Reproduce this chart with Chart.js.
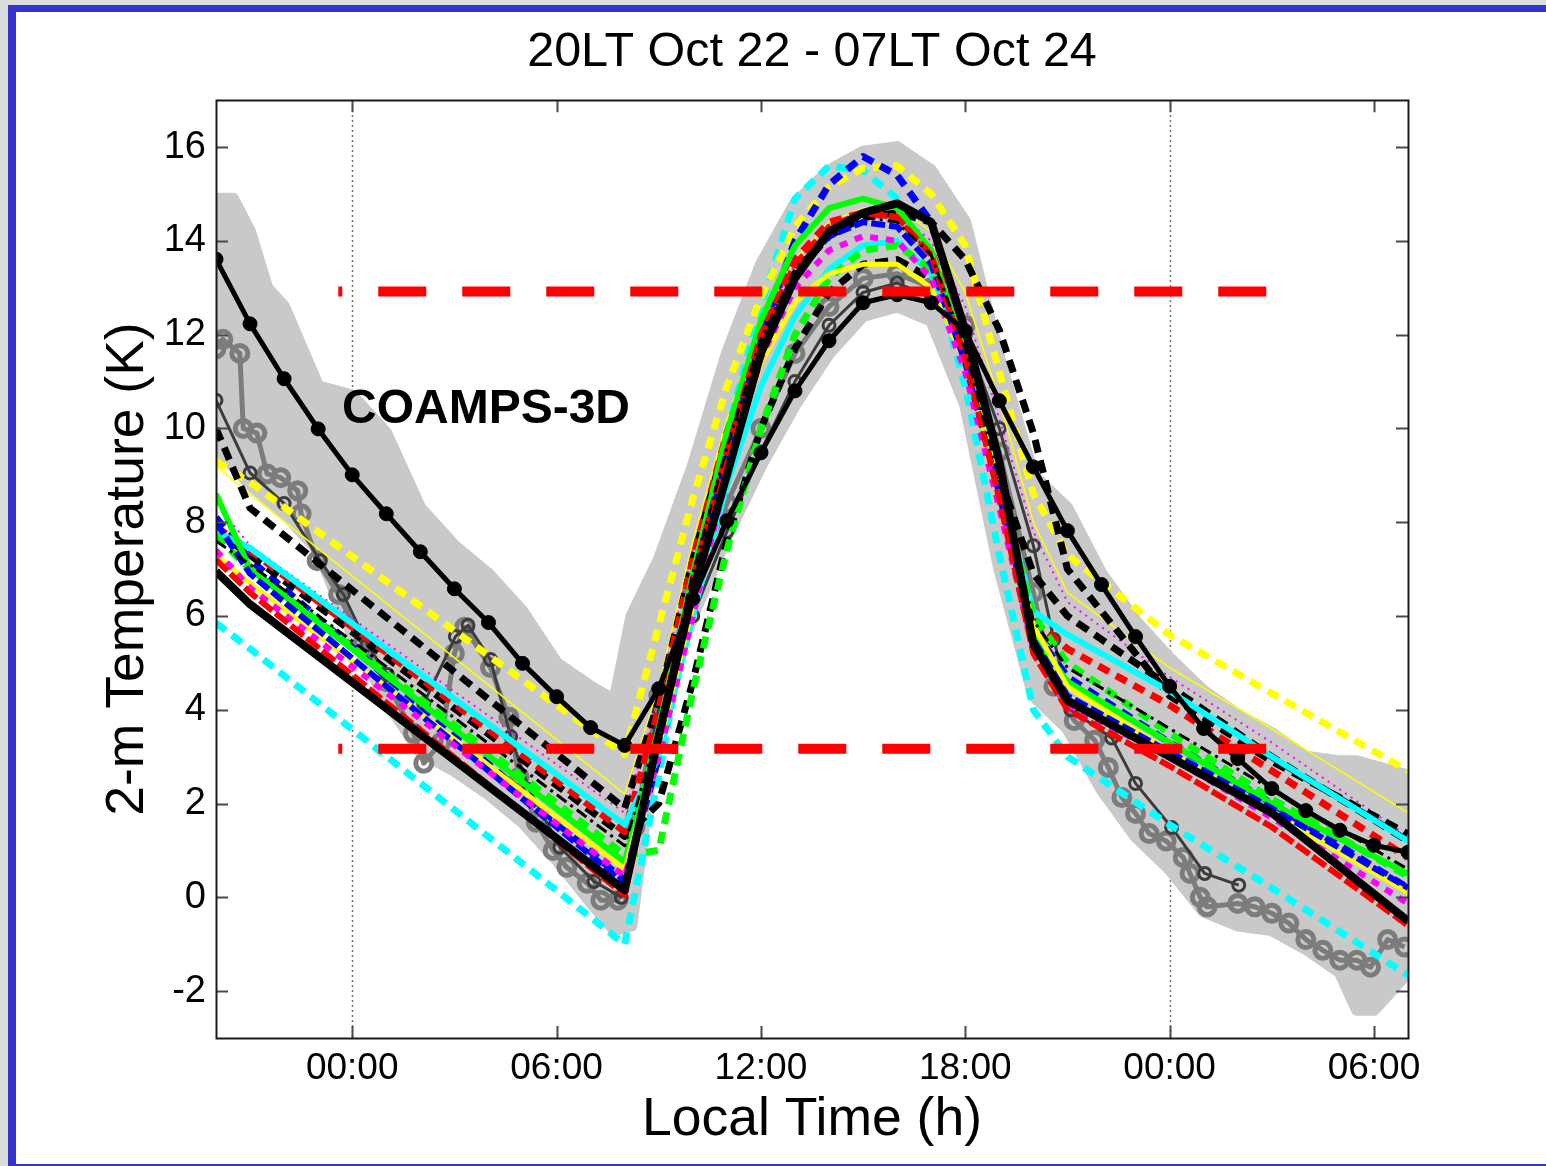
<!DOCTYPE html>
<html><head><meta charset="utf-8">
<script src="https://cdn.jsdelivr.net/npm/chart.js@4.4.1/dist/chart.umd.min.js"></script>
<style>
html,body{margin:0;padding:0;background:#dcdcdc;width:1546px;height:1166px;overflow:hidden;}
#frame{position:absolute;left:8px;top:5px;width:1600px;height:1161px;background:#fff;border-left:8px solid #3434cc;border-top:7px solid #3434cc;border-bottom:2px solid #3434cc;box-sizing:border-box;}
#c{position:absolute;left:0;top:0;}
</style></head><body>
<div id="frame"></div>
<canvas id="c" width="1546" height="1166"></canvas>
<script>
// ---------- axes ----------
const X_TICKS = [0, 6, 12, 18, 24, 30];
const X_TICK_LABELS = ['00:00', '06:00', '12:00', '18:00', '00:00', '06:00'];
const Y_TICKS = [-2, 0, 2, 4, 6, 8, 10, 12, 14, 16];
const DOTTED_X = [0, 24];

// ---------- observation envelope (hours after 00LT Oct 23) ----------
const ENV_H = [-4,-3.5,-3,-2.5,-2,-1,0,1,2,3,4,5,6,7,7.7,8.2,9,10,11,12,13,14,15,16,17,18,19,20,21,22,23,24,25,26,27,28,29,29.5,30,30.5,31];
const ENV_UPPER = [14.9,14.9,14.2,13.0,12.6,10.9,10.7,9.9,8.3,7.5,6.9,6.1,5.0,4.5,4.2,6.0,7.2,9.2,11.6,13.5,14.8,15.5,15.9,16.0,15.5,14.4,11.5,9.0,8.3,6.9,5.9,5.1,4.4,3.9,3.5,3.0,2.9,2.9,2.8,2.7,2.6];
const ENV_LOWER = [9.6,9.2,8.8,8.5,8.2,7.4,5.6,4.2,3.1,2.7,2.2,1.6,0.8,-0.1,-0.7,-0.6,4.0,6.0,7.7,9.2,10.5,11.6,12.4,12.6,12.3,10.5,7.0,4.3,3.6,2.3,1.3,0.6,-0.3,-0.6,-0.7,-1.1,-1.6,-2.4,-2.4,-2.0,-1.6];

// ---------- observation station traces ----------
const OBS_H = [-4,-3,-2,-1,0,1,2,3,4,5,6,7,8,9,10,11,12,13,14,15,16,17,18,19,20,21,22,23,24,25,26,27,28,29,30,31];
const OBS_BLACK = [13.61,12.23,11.06,9.99,9.01,8.18,7.37,6.58,5.86,4.99,4.28,3.62,3.24,4.45,6.37,8.03,9.48,10.80,11.87,12.68,12.85,12.68,12.08,10.59,9.18,7.82,6.67,5.56,4.50,3.60,2.96,2.32,1.85,1.43,1.11,0.96];

const DG1_H = [-4,-3,-2,-0.94,-0.26,0.44,1.03,2.1,3.03,3.4,4.06,4.65,5.2,6.1,7.1,7.9,9,10,11,12,13,14,15,16,17,18,19,20,20.6,21.1,22.3,23,24.06,25.03,26.03];
const DG1_T = [10.6,9.05,8.4,7.18,6.46,5.39,4.75,4.13,5.56,5.8,5.07,3.43,2.3,1.07,0.34,0.0,4.0,6.0,7.8,9.5,11.0,12.2,12.9,13.1,12.8,12.0,10.0,7.5,5.5,4.0,3.4,2.43,1.49,0.51,0.26];

const G2_H = [-4,-3.8,-3.3,-3.2,-2.8,-2.5,-2.1,-1.6,-1.5,-1.03,-0.4,0.3,1.0,1.8,2.1,2.6,3.0,3.3,4.06,4.6,4.9,5.4,5.9,6.3,6.9,7.3,7.8,8.3,9,10,11,12,13,14,15,16,17,18,19,20,20.6,21.2,21.8,22.2,22.6,23.0,23.4,23.9,24.4,24.6,24.9,25.1,26.0,26.5,27.0,27.5,28.0,28.5,29.0,29.5,29.9,30.4,30.9];
const G2_T = [11.7,11.9,11.6,10.0,9.9,9.03,8.95,8.67,8.18,7.18,6.46,5.4,4.6,3.5,2.86,3.3,5.2,5.76,4.9,3.84,2.56,1.6,1.0,0.64,0.3,-0.06,-0.06,1.5,4.3,6.6,8.4,10.0,11.6,12.6,13.2,13.3,13.0,12.2,9.5,6.5,4.5,3.77,3.35,2.77,2.13,1.79,1.36,1.2,0.85,0.51,0.0,-0.2,-0.13,-0.2,-0.34,-0.55,-0.9,-1.13,-1.34,-1.34,-1.49,-0.9,-1.06];

// ---------- COAMPS-3D model members ----------
const MODEL_H = [-4,-3,8,9,10,11,12,13,14,15,16,17,18,19,20,21,24,27,31];
const CYAN_DASH    = [5.85,5.3,-1.0,2.6,6.6,9.9,12.6,14.9,15.6,15.5,14.9,13.5,10.9,7.3,4.0,3.0,1.55,0.2,-1.66];
const YELLOW_DASH  = [9.3,8.85,3.05,5.8,8.5,10.9,12.8,14.3,15.15,15.55,15.6,15.0,13.9,11.2,8.6,7.3,5.6,4.35,2.7];
const BLUE_DASH    = [8.1,7.2,0.35,3.0,6.2,9.3,12.0,14.0,15.2,15.8,15.4,14.4,12.0,8.8,5.7,4.7,3.3,2.0,0.2];
const BLACK_THICK  = [6.95,6.25,0.15,3.45,6.5,9.0,11.6,13.2,14.2,14.6,14.8,14.4,12.1,9.3,5.4,4.2,3.0,1.8,-0.5];
const RED_DASH     = [7.9,7.4,1.4,4.0,7.2,9.9,12.0,13.6,14.4,14.6,14.5,13.8,11.8,9.0,5.9,5.3,4.1,2.7,0.85];
const CYAN_SOLID   = [7.8,7.45,1.55,3.0,6.0,8.8,10.9,12.4,13.4,13.9,14.0,13.3,11.5,8.8,6.1,5.6,4.4,3.0,1.2];
const BLACK_DASH1  = [10.0,8.3,1.9,4.2,7.2,9.8,11.9,13.3,14.1,14.5,14.6,14.4,13.6,12.1,9.9,7.0,4.3,2.9,1.35];
const BLACK_DASH2  = [7.8,7.3,1.3,2.0,4.6,7.6,10.0,11.7,12.9,13.5,13.6,13.2,11.8,9.0,6.9,6.0,4.5,3.0,1.2];
const GREEN_SOLID  = [8.6,7.0,0.75,3.6,6.9,9.9,12.3,13.9,14.7,14.9,14.7,13.8,11.6,8.6,5.6,4.6,3.3,2.0,0.5];
const GREEN_DASH   = [7.7,7.0,0.9,1.0,4.4,7.4,10.0,12.0,13.2,13.8,13.9,13.4,11.6,8.8,6.0,5.0,3.5,2.1,0.45];
const RED_SOLID    = [7.2,6.5,0.05,3.5,6.8,9.5,12.0,13.5,14.3,14.6,14.5,13.7,11.5,8.5,5.2,4.0,2.8,1.5,-0.6];
const MAGENTA_DASH = [7.4,6.6,0.45,3.0,6.0,9.0,11.5,13.0,13.8,14.1,14.0,13.2,11.2,8.3,5.3,4.1,3.0,1.7,-0.13];
const BLUE_SOLID   = [8.0,6.9,0.3,3.3,6.6,9.4,11.8,13.3,14.1,14.4,14.3,13.5,11.4,8.6,5.5,4.3,3.1,1.9,0.2];
const YELLOW_SOLID = [7.3,6.7,0.6,3.2,6.2,9.1,11.4,12.7,13.3,13.5,13.5,13.0,11.4,8.8,5.8,4.5,3.1,1.8,0.1];
const YELLOW_THIN  = [9.2,8.6,2.2,4.5,7.6,10.2,12.3,13.6,14.4,14.7,14.7,14.2,12.9,10.6,8.0,6.5,4.9,3.6,1.8];
const MAGENTA_THIN = [8.4,7.5,1.8,4.3,7.4,10.0,12.2,13.5,14.3,14.6,14.6,14.0,12.6,10.2,7.8,6.3,4.7,3.3,1.3];
const BLACK_DASHDOT= [7.6,7.1,1.1,3.6,6.9,9.6,11.9,13.4,14.2,14.5,14.4,13.7,11.7,8.9,5.9,4.9,3.6,2.3,0.6];

// ---------- reference lines ----------
const REF_X = [-0.41, 26.85];
const REF_Y = [12.92, 3.17];

const TITLE = '20LT Oct 22 - 07LT Oct 24';
const X_TITLE = 'Local Time (h)';
const Y_TITLE = '2-m Temperature (K)';
const LABEL = {text: 'COAMPS-3D', x: -0.3, y: 10.12};

const FONT = "'Liberation Sans', Arial, Helvetica, sans-serif";
const pts = (xs, ys) => xs.map((v, i) => ({x: v, y: ys[i]}));

function line(xs, ys, color, width, dash, extra) {
  return Object.assign({
    data: pts(xs, ys), borderColor: color, backgroundColor: color, borderWidth: width,
    borderDash: dash || [], pointRadius: 0, fill: false, tension: 0,
    borderCapStyle: 'butt', borderJoinStyle: 'round'
  }, extra || {});
}

const GRAY = '#c9c9c9';
const D = [12, 8];
const layers = [
  line(ENV_H, ENV_UPPER, GRAY, 12, [], {fill: '+1', backgroundColor: GRAY, borderCapStyle: 'round'}),
  line(ENV_H, ENV_LOWER, GRAY, 12, [], {borderCapStyle: 'round'}),
  line(G2_H, G2_T, '#7c7c7c', 5, [], {pointRadius: 8, pointBorderWidth: 5, pointBackgroundColor: 'rgba(0,0,0,0)', pointBorderColor: '#7c7c7c'}),
  line(DG1_H, DG1_T, '#3c3c3c', 3, [], {pointRadius: 6, pointBorderWidth: 3, pointBackgroundColor: 'rgba(0,0,0,0)', pointBorderColor: '#3c3c3c'}),
  line(MODEL_H, YELLOW_THIN, '#ffff00', 1.5),
  line(MODEL_H, MAGENTA_THIN, '#ff00ff', 2, [2, 5]),
  line(MODEL_H, CYAN_DASH, '#00ffff', 7, D),
  line(MODEL_H, YELLOW_DASH, '#ffff00', 7, D),
  line(MODEL_H, BLUE_DASH, '#0000ff', 7, D),
  line(MODEL_H, BLACK_DASH1, '#000000', 7, [13, 8]),
  line(MODEL_H, BLACK_DASH2, '#000000', 7, [13, 8]),
  line(MODEL_H, RED_DASH, '#ff0000', 7, D),
  line(MODEL_H, CYAN_SOLID, '#00ffff', 6),
  line(MODEL_H, GREEN_DASH, '#00ff00', 7, D),
  line(MODEL_H, GREEN_SOLID, '#00ff00', 6),
  line(MODEL_H, YELLOW_SOLID, '#ffff00', 5),
  line(MODEL_H, BLUE_SOLID, '#0000ff', 6, [14, 4]),
  line(MODEL_H, MAGENTA_DASH, '#ff00ff', 6, [8, 8]),
  line(MODEL_H, RED_SOLID, '#ff0000', 6, [16, 4]),
  line(MODEL_H, BLACK_DASHDOT, '#000000', 3, [12, 5, 3, 5]),
  line(MODEL_H, BLACK_THICK, '#000000', 8),
  line(OBS_H, OBS_BLACK, '#000000', 5, [], {pointRadius: 7, pointBackgroundColor: '#000', pointBorderColor: '#000', pointBorderWidth: 1}),
  line(REF_X, [REF_Y[0], REF_Y[0]], '#ff0000', 10, [48, 36], {borderDashOffset: 44}),
  line(REF_X, [REF_Y[1], REF_Y[1]], '#ff0000', 10, [48, 36], {borderDashOffset: 44})
];
layers.forEach((ds, i) => { ds.order = layers.length - i; });

const decor = {
  id: 'decor',
  beforeDatasetsDraw(chart) {
    const {ctx, chartArea: a, scales: {x}} = chart;
    ctx.save();
    ctx.strokeStyle = '#444'; ctx.lineWidth = 1.5; ctx.setLineDash([1.5, 3.5]);
    DOTTED_X.forEach(v => {
      const px = Math.round(x.getPixelForValue(v)) + 0.5;
      ctx.beginPath(); ctx.moveTo(px, a.top); ctx.lineTo(px, a.bottom); ctx.stroke();
    });
    ctx.restore();
  },
  afterDatasetsDraw(chart) {
    const {ctx, chartArea: a, scales: {x, y}} = chart;
    ctx.save();
    ctx.fillStyle = '#000';
    ctx.font = 'bold 48px ' + FONT;
    ctx.textAlign = 'left'; ctx.textBaseline = 'alphabetic';
    ctx.fillText(LABEL.text, x.getPixelForValue(LABEL.x), y.getPixelForValue(LABEL.y));
    // ticks (inward, all sides)
    ctx.strokeStyle = '#4a4a4a'; ctx.lineWidth = 2; ctx.setLineDash([]);
    const TL = 12;
    X_TICKS.forEach(v => {
      const px = Math.round(x.getPixelForValue(v)) + 0.5;
      ctx.beginPath(); ctx.moveTo(px, a.bottom); ctx.lineTo(px, a.bottom - TL);
      ctx.moveTo(px, a.top); ctx.lineTo(px, a.top + TL); ctx.stroke();
    });
    Y_TICKS.forEach(v => {
      const py = Math.round(y.getPixelForValue(v)) + 0.5;
      ctx.beginPath(); ctx.moveTo(a.left, py); ctx.lineTo(a.left + TL, py);
      ctx.moveTo(a.right, py); ctx.lineTo(a.right - TL, py); ctx.stroke();
    });
    ctx.strokeStyle = '#1a1a1a'; ctx.lineWidth = 2;
    ctx.strokeRect(Math.round(a.left) + 0.5, Math.round(a.top) + 0.5, Math.round(a.right - a.left), Math.round(a.bottom - a.top));
    ctx.restore();
  }
};

Chart.defaults.font.family = FONT;
Chart.defaults.color = '#000';

new Chart(document.getElementById('c'), {
  type: 'line',
  data: {datasets: layers},
  options: {
    responsive: false, animation: false, devicePixelRatio: 1,
    layout: {padding: {left: 0, right: 138, top: 0, bottom: 0}},
    plugins: {
      legend: {display: false}, tooltip: {enabled: false},
      title: {display: true, fullSize: false, text: TITLE, color: '#000', font: {size: 48.5, weight: 'normal'}, padding: {top: 24, bottom: 18}}
    },
    scales: {
      x: {
        type: 'linear', min: -4, max: 31,
        afterBuildTicks: s => { s.ticks = X_TICKS.map(v => ({value: v})); },
        afterFit: s => { s.height = 128; },
        ticks: {autoSkip: false, maxRotation: 0, padding: 1, font: {size: 37}, color: '#000',
          callback: v => X_TICK_LABELS[X_TICKS.indexOf(v)]},
        grid: {display: false}, border: {display: false},
        title: {display: true, text: X_TITLE, color: '#000', font: {size: 53.5}, padding: {top: 0, bottom: 14}}
      },
      y: {
        type: 'linear', min: -3, max: 17,
        afterBuildTicks: s => { s.ticks = Y_TICKS.map(v => ({value: v})); },
        afterFit: s => { s.width = 216; },
        ticks: {padding: 2, font: {size: 38}, color: '#000'},
        grid: {display: false}, border: {display: false},
        title: {display: true, text: Y_TITLE, color: '#000', font: {size: 53.5}, padding: {top: 96, bottom: 0}}
      }
    }
  },
  plugins: [decor]
});
</script></body></html>
